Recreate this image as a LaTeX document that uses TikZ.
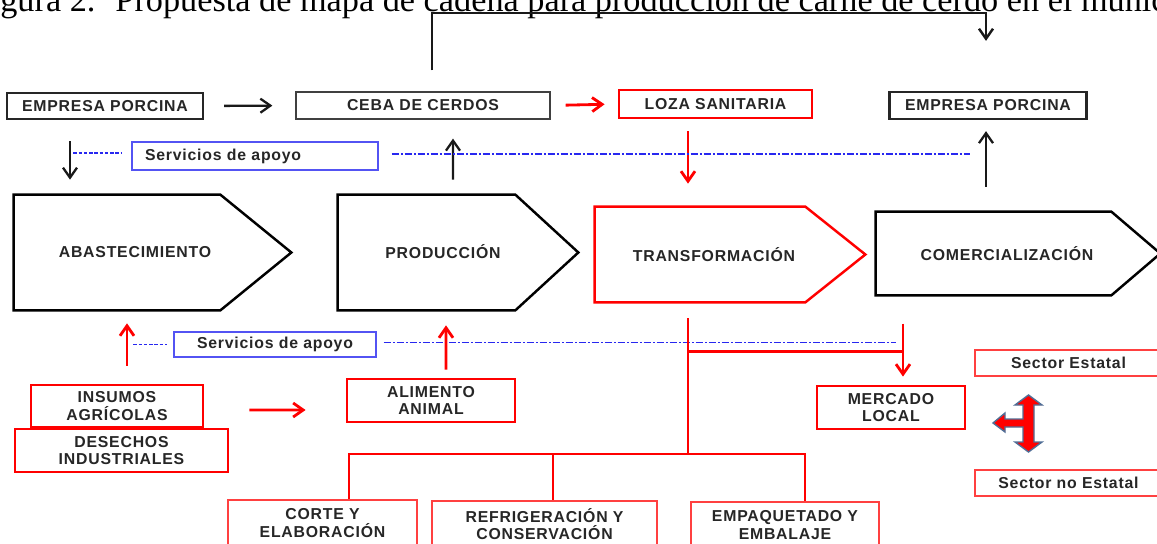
\documentclass[tikz,border=0pt]{standalone}
\usepackage{fontspec}
\usetikzlibrary{positioning,arrows.meta,calc}
\newfontfamily\lblfamily[LetterSpace=5]{Liberation Sans}
\newfontfamily\capfamily{Liberation Serif}
\newcommand{\lblfont}{\lblfamily\bfseries\fontsize{9}{9.8}\selectfont}
\newcommand{\pxu}{0.02cm}
\definecolor{apoyo}{RGB}{40,40,240}
\definecolor{rojo}{RGB}{255,0,0}
\definecolor{contorno}{RGB}{80,110,150}
\tikzset{
  box/.style={rectangle, inner sep=0, align=center, font=\lblfont, text=black!85},
  blkbox/.style={box, draw=black!85, line width=1.3pt},
  thinbox/.style={box, draw=black!75, line width=0.7pt},
  redbox/.style={box, draw=rojo, line width=1.6pt},
  pinkbox/.style={box, draw=rojo!75, line width=0.8pt},
  bluebox/.style={box, draw=apoyo!80, line width=0.8pt},
  stagebody/.style={rectangle, inner sep=0},
  stage/.style={line width=1.4pt, line join=miter},
  blkarr/.style={-{Straight Barb[length=2mm,width=2.8mm]}, line width=1.3pt, black!90},
  redarr/.style={-{Straight Barb[length=2mm,width=2.8mm]}, line width=1.6pt, rojo},
  redline/.style={line width=1.6pt, rojo, line join=miter},
  apoyodash/.style={apoyo, line width=0.6pt, dash pattern=on 2pt off 1pt},
  apoyodot/.style={apoyo, line width=0.6pt, dash pattern=on 4pt off 1.2pt on 1pt off 1.2pt},
}

\begin{document}
\begin{tikzpicture}[x=0.02cm,y=-0.02cm]
\useasboundingbox (0,0) rectangle (1157,544);
\node[anchor=base west, inner sep=0, font=\capfamily\fontsize{19.5}{22}\selectfont] (cap) at (0,12) {gura 2.~ Propuesta de mapa de cadena para producción de carne de cerdo en el municipio};

% top row
\node[blkbox, minimum width=196*\pxu, minimum height=26*\pxu] (emp1) at (105,106) {EMPRESA PORCINA};
\node[thinbox, minimum width=254*\pxu, minimum height=27*\pxu] (ceba) at (423,105.5) {CEBA DE CERDOS};
\node[redbox, minimum width=193*\pxu, minimum height=28*\pxu] (loza) at (715.5,104) {LOZA SANITARIA};
\node[blkbox, minimum width=197*\pxu, minimum height=27*\pxu] (emp2) at (988,105.5) {EMPRESA PORCINA};
\node[bluebox, minimum height=28*\pxu, text width=220*\pxu, inner xsep=13*\pxu, align=left] (serv1) at (255,156) {Servicios de apoyo};

% stages
\node[stagebody, minimum width=206*\pxu, minimum height=115*\pxu] (abast) at (117,252.5) {};
\draw[stage] (abast.north west) -- (abast.north east) -- ([xshift=71*\pxu]abast.east) -- (abast.south east) -- (abast.south west) -- cycle;
\node[box] (abastT) at (135,252) {ABASTECIMIENTO};
\node[stagebody, minimum width=177*\pxu, minimum height=115*\pxu] (prod) at (426.5,252.5) {};
\draw[stage] (prod.north west) -- (prod.north east) -- ([xshift=63*\pxu]prod.east) -- (prod.south east) -- (prod.south west) -- cycle;
\node[box] (prodT) at (443,252) {PRODUCCIÓN};
\node[stagebody, minimum width=210*\pxu, minimum height=95*\pxu] (trans) at (700,254.5) {};
\draw[stage, rojo] (trans.north west) -- (trans.north east) -- ([xshift=60*\pxu]trans.east) -- (trans.south east) -- (trans.south west) -- cycle;
\node[box] (transT) at (714,255) {TRANSFORMACIÓN};
\node[stagebody, minimum width=235*\pxu, minimum height=83*\pxu] (comer) at (993.5,253.5) {};
\draw[stage] (comer.north west) -- (comer.north east) -- ([xshift=49*\pxu]comer.east) -- (comer.south east) -- (comer.south west) -- cycle;
\node[box] (comerT) at (1007,254) {COMERCIALIZACIÓN};

% lower boxes
\node[bluebox, minimum width=202*\pxu, minimum height=25*\pxu] (serv2) at (275,344.5) {Servicios de apoyo};
\node[redbox, minimum width=172*\pxu, minimum height=42*\pxu] (ins) at (117,406) {INSUMOS\\AGRÍCOLAS};
\node[redbox, minimum width=213*\pxu, minimum height=43*\pxu] (des) at (121.5,450.5) {DESECHOS\\INDUSTRIALES};
\node[redbox, minimum width=168*\pxu, minimum height=43*\pxu] (ali) at (431,400.5) {ALIMENTO\\ANIMAL};
\node[redbox, minimum width=148*\pxu, minimum height=43*\pxu] (merc) at (891,407.5) {MERCADO\\LOCAL};
\node[pinkbox, minimum width=187*\pxu, minimum height=26*\pxu] (secE) at (1068.5,363) {Sector Estatal};
\node[pinkbox, minimum width=187*\pxu, minimum height=26*\pxu] (secN) at (1068.5,483) {Sector no Estatal};
\node[pinkbox, minimum width=189*\pxu, minimum height=46*\pxu] (corte) at (322.5,523) {CORTE Y\\ELABORACIÓN};
\node[pinkbox, minimum width=225*\pxu, minimum height=46*\pxu] (refr) at (544.5,524) {REFRIGERACIÓN Y\\CONSERVACIÓN};
\node[pinkbox, minimum width=188*\pxu, minimum height=46*\pxu] (empq) at (785,525) {EMPAQUETADO Y\\EMBALAJE};

% connectors, top
\coordinate (brk) at (986,13);
\draw[blkarr, line width=1.4pt] ([shift={(9,-21)}]ceba.north) |- (brk) -- ([shift={(-2,-50)}]emp2.north);
\draw[blkarr, shorten <=20*\pxu, shorten >=23*\pxu] (emp1.east) -- (ceba.west);
\draw[redarr, shorten <=15*\pxu, shorten >=13*\pxu] (ceba.east) -- (loza.west);
\draw[blkarr, shorten <=21*\pxu, shorten >=15*\pxu] ([xshift=-35*\pxu]emp1.south) -- ([xshift=-47*\pxu]abast.north);
\draw[blkarr, shorten <=15*\pxu, shorten >=19*\pxu] ([xshift=26.5*\pxu]prod.north) -- ([xshift=30*\pxu]ceba.south);
\draw[redarr, shorten <=12*\pxu, shorten >=23*\pxu] ([xshift=-27.5*\pxu]loza.south) -- ([xshift=-12*\pxu]trans.north);
\draw[blkarr, shorten <=25*\pxu, shorten >=11*\pxu] ([xshift=-7.5*\pxu]comer.north) -- ([xshift=-2*\pxu]emp2.south);
\draw[apoyodash] ([shift={(-58,-3)}]serv1.west) -- ([shift={(-10,-3)}]serv1.west);
\draw[apoyodot] ([shift={(13,-2)}]serv1.east) -- ++(578,0);

% connectors, bottom
\draw[apoyodash] ([xshift=-40*\pxu]serv2.west) -- ([xshift=-6*\pxu]serv2.west);
\draw[apoyodot] ([shift={(7,-2)}]serv2.east) -- ++(512,0);
\draw[redarr, shorten <=18*\pxu, shorten >=13*\pxu] ([xshift=10*\pxu]ins.north) -- ([xshift=10*\pxu]abast.south);
\draw[redarr, shorten <=8*\pxu, shorten >=15*\pxu] ([xshift=15*\pxu]ali.north) -- ([xshift=19.5*\pxu]prod.south);
\draw[redarr] ([shift={(45,4)}]ins.east) -- ([shift={(-40,9.5)}]ali.west);
\coordinate (split) at (688,454);
\draw[redline] ([shift={(-12,16)}]trans.south) -- (split);
\draw[redline] ([shift={(-12,49)}]trans.south) -- ++(215,0);
\draw[redarr] ([shift={(12,-61)}]merc.north) -- ([shift={(12,-8)}]merc.north);
\coordinate (barL) at (349,454);
\coordinate (barM) at (553,454);
\coordinate (barR) at (805,454);
\draw[redline] (barL |- corte.north) -- (barL) -- (barR) -- (barR |- empq.north);
\draw[redline] (barM) -- (barM |- refr.north);

% three-way arrow between the sectors
\draw[fill=rojo, draw=contorno, line width=0.8pt, line join=miter]
  (1028.5,395) -- (1042,405) -- (1034,405) -- (1034,442) -- (1042,442) -- (1028.5,452)
  -- (1015,442) -- (1023,442) -- (1023,427) -- (1005,427) -- (1005,432) -- (993,423)
  -- (1005,413) -- (1005,419) -- (1023,419) -- (1023,405) -- (1015,405) -- cycle;
\end{tikzpicture}
\end{document}
